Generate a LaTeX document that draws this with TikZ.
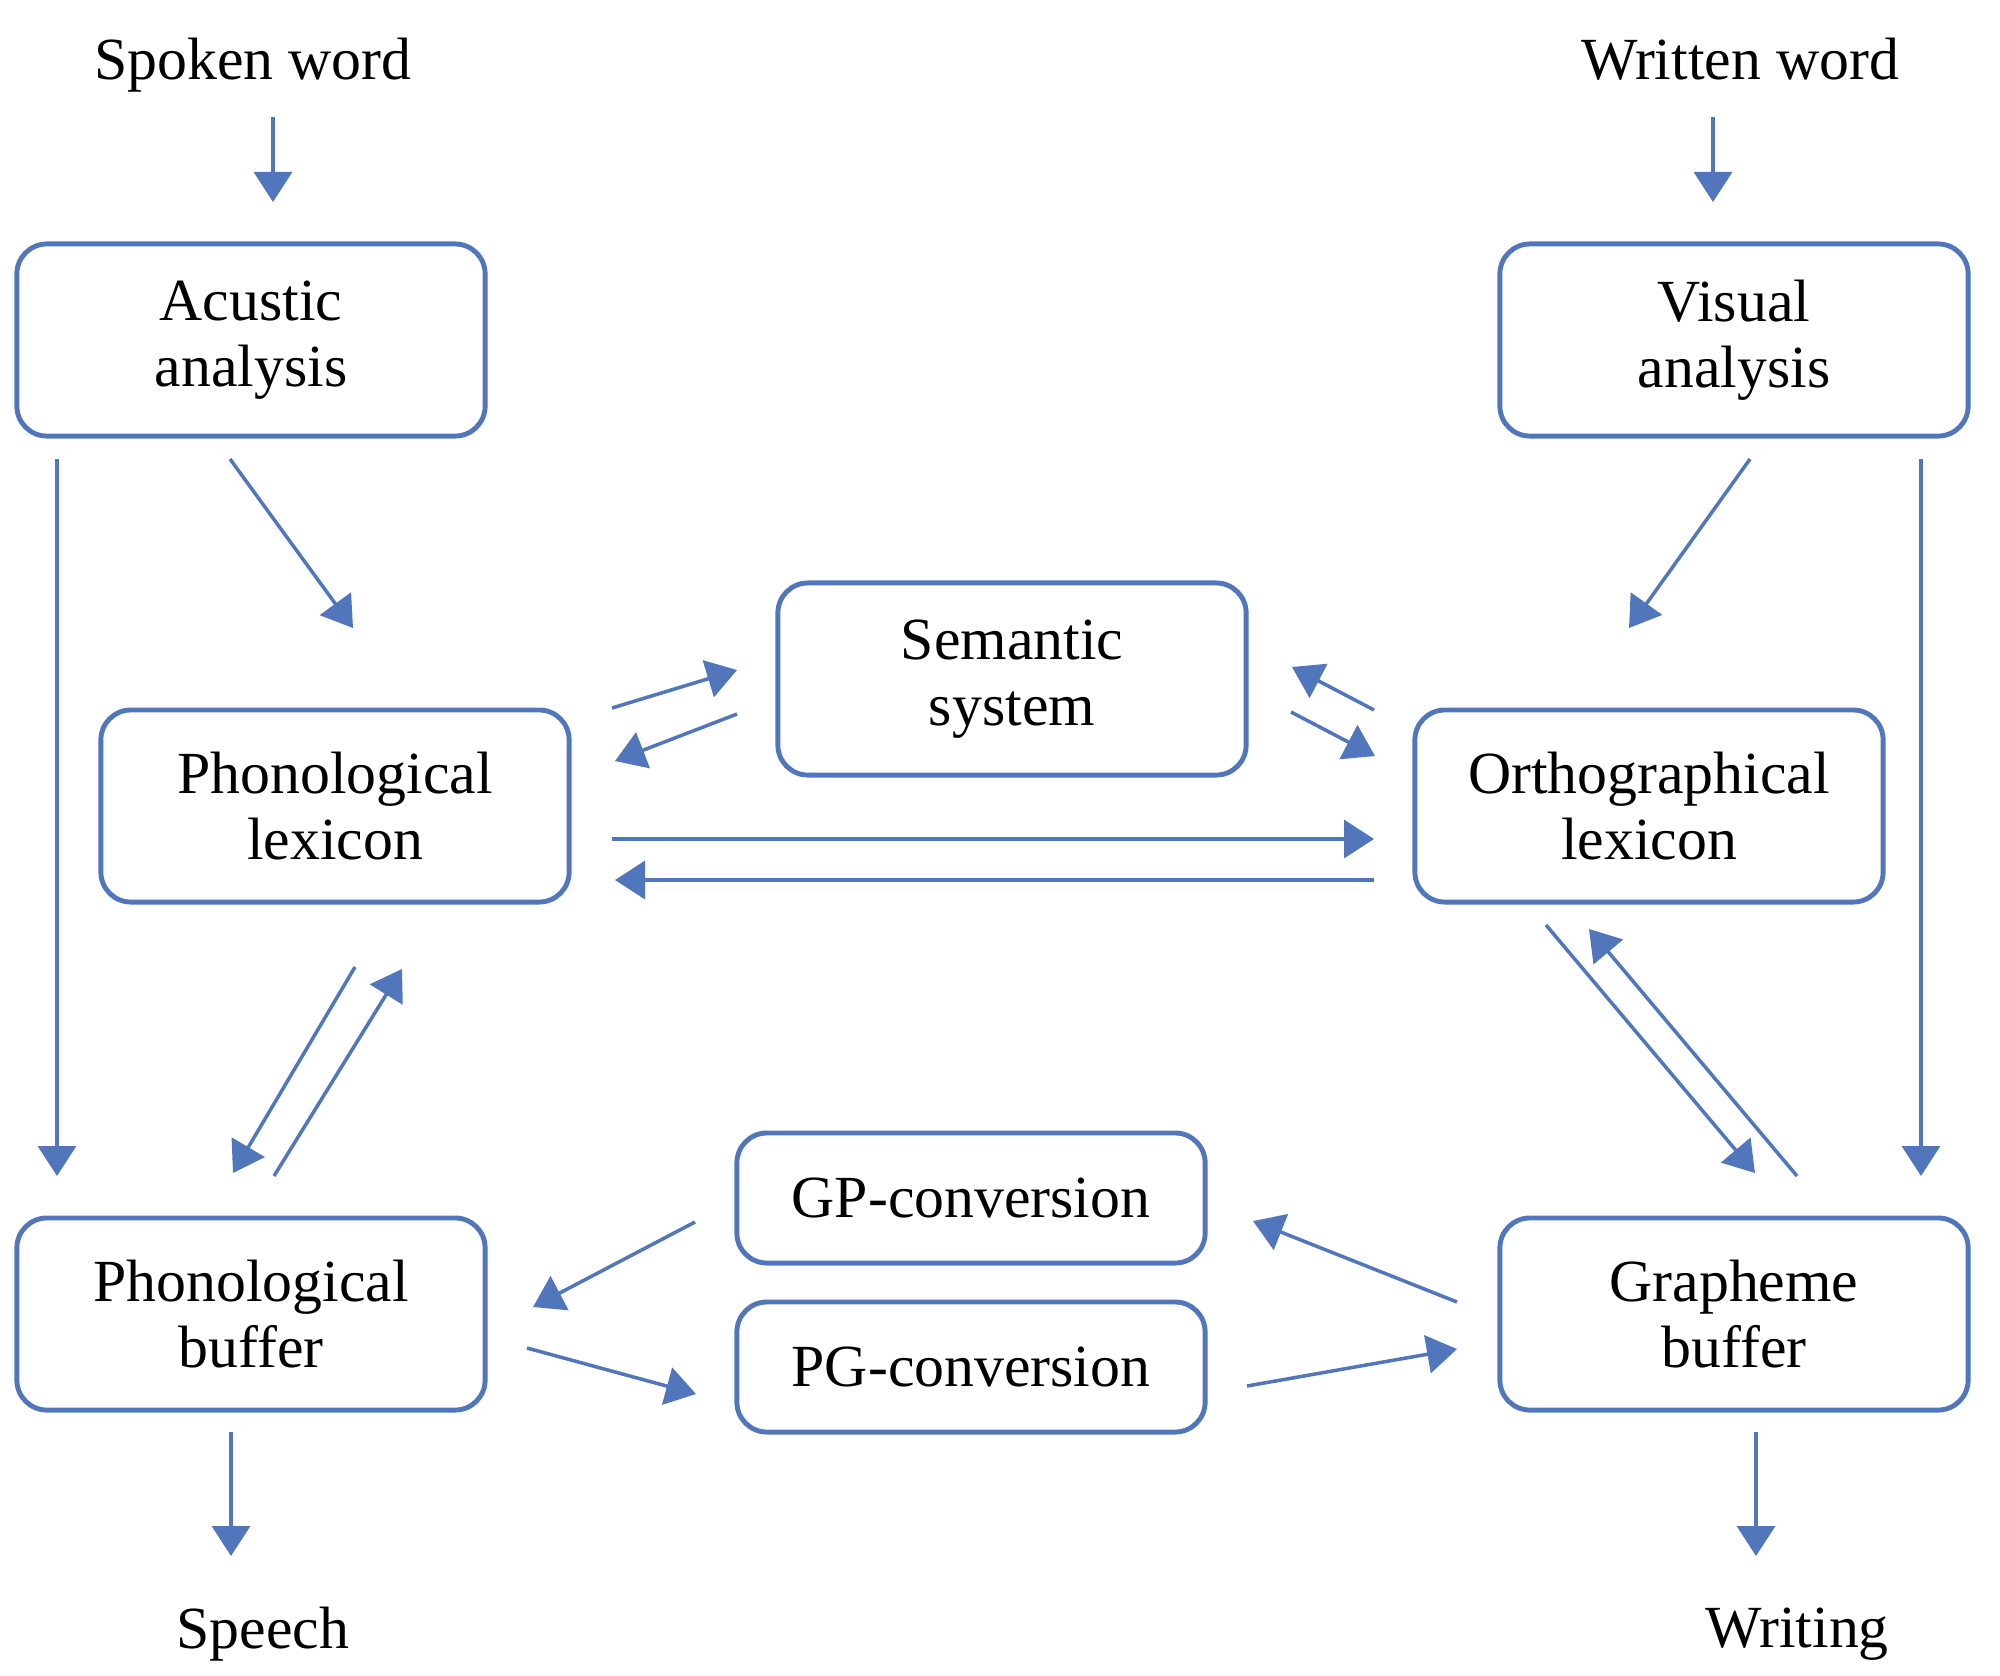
\documentclass[tikz,border=0pt]{standalone}
\usepackage{fontspec}
\setmainfont{Liberation Serif}
\usetikzlibrary{arrows.meta}
\definecolor{boxblue}{RGB}{82,118,188}
\tikzset{
  lbl/.style={font=\fontsize{17}{18.8}\selectfont},
  box/.style={lbl, draw=boxblue, line width=1.4pt, rounded corners=0.3cm,
    minimum width=4.68cm, minimum height=1.92cm, align=center},
  conv/.style={box, minimum height=1.3cm},
  arr/.style={draw=boxblue, line width=1pt, -{Triangle[length=0.3cm,width=0.38cm]}}
}
\begin{document}
\begin{tikzpicture}[x=0.01cm,y=-0.01cm]
\useasboundingbox (0,0) rectangle (2000,1675);

% words in and out
\node[lbl] (spoken) at (253,65) {Spoken word};
\node[lbl] (written) at (1740,59) {Written word};
\node[lbl] (speech) at (263,1634) {Speech};
\node[lbl] (writing) at (1797,1634) {Writing};

% boxes
\node[box] (acu) at (251,340) {Acustic\\analysis};
\node[box] (vis) at (1734,340) {Visual\\analysis};
\node[box] (sem) at (1012,679) {Semantic\\system};
\node[box] (plex) at (335,806) {Phonological\\lexicon};
\node[box] (olex) at (1649,806) {Orthographical\\lexicon};
\node[conv] (gpc) at (971,1198) {GP-conversion};
\node[conv] (pgc) at (971,1367) {PG-conversion};
\node[box] (pbuf) at (251,1314) {Phonological\\buffer};
\node[box] (gbuf) at (1734,1314) {Grapheme\\buffer};

% arrow ends
\coordinate (spoken-o) at (273,117);  \coordinate (acu-i) at (273,202);
\coordinate (written-o) at (1713,117); \coordinate (vis-i) at (1713,202);
\coordinate (acu-o1) at (57,459);     \coordinate (pbuf-i1) at (57,1176);
\coordinate (acu-o2) at (230,459);    \coordinate (plex-i1) at (353,628);
\coordinate (vis-o1) at (1750,459);   \coordinate (olex-i1) at (1629,628);
\coordinate (vis-o2) at (1921,459);   \coordinate (gbuf-i1) at (1921,1176);
\coordinate (plex-o1) at (612,708);   \coordinate (sem-i1) at (737,670);
\coordinate (sem-o1) at (737,714);    \coordinate (plex-i2) at (615,761);
\coordinate (sem-o2) at (1291,712);   \coordinate (olex-i2) at (1375,756);
\coordinate (olex-o1) at (1374,710);  \coordinate (sem-i2) at (1292,667);
\coordinate (plex-o2) at (612,839);   \coordinate (olex-i3) at (1374,839);
\coordinate (olex-o2) at (1374,880);  \coordinate (plex-i3) at (615,880);
\coordinate (plex-o3) at (355,967);   \coordinate (pbuf-i2) at (233,1173);
\coordinate (pbuf-o1) at (274,1176);  \coordinate (plex-i4) at (402,969);
\coordinate (olex-o3) at (1546,925);  \coordinate (gbuf-i2) at (1755,1173);
\coordinate (gbuf-o1) at (1797,1176); \coordinate (olex-i4) at (1589,929);
\coordinate (gpc-o) at (695,1222);    \coordinate (pbuf-i3) at (533,1307);
\coordinate (pbuf-o2) at (527,1348);  \coordinate (pgc-i) at (696,1394);
\coordinate (gbuf-o2) at (1457,1302); \coordinate (gpc-i) at (1253,1221);
\coordinate (pgc-o) at (1247,1386);   \coordinate (gbuf-i3) at (1457,1349);
\coordinate (pbuf-o3) at (231,1432);  \coordinate (speech-i) at (231,1556);
\coordinate (gbuf-o3) at (1756,1432); \coordinate (writing-i) at (1756,1556);

% connectors
\draw[arr] (spoken-o) -- (acu-i);
\draw[arr] (written-o) -- (vis-i);
\draw[arr] (acu-o1) -- (pbuf-i1);
\draw[arr] (acu-o2) -- (plex-i1);
\draw[arr] (vis-o1) -- (olex-i1);
\draw[arr] (vis-o2) -- (gbuf-i1);
\draw[arr] (plex-o1) -- (sem-i1);
\draw[arr] (sem-o1) -- (plex-i2);
\draw[arr] (sem-o2) -- (olex-i2);
\draw[arr] (olex-o1) -- (sem-i2);
\draw[arr] (plex-o2) -- (olex-i3);
\draw[arr] (olex-o2) -- (plex-i3);
\draw[arr] (plex-o3) -- (pbuf-i2);
\draw[arr] (pbuf-o1) -- (plex-i4);
\draw[arr] (olex-o3) -- (gbuf-i2);
\draw[arr] (gbuf-o1) -- (olex-i4);
\draw[arr] (gpc-o) -- (pbuf-i3);
\draw[arr] (pbuf-o2) -- (pgc-i);
\draw[arr] (gbuf-o2) -- (gpc-i);
\draw[arr] (pgc-o) -- (gbuf-i3);
\draw[arr] (pbuf-o3) -- (speech-i);
\draw[arr] (gbuf-o3) -- (writing-i);

\end{tikzpicture}
\end{document}
